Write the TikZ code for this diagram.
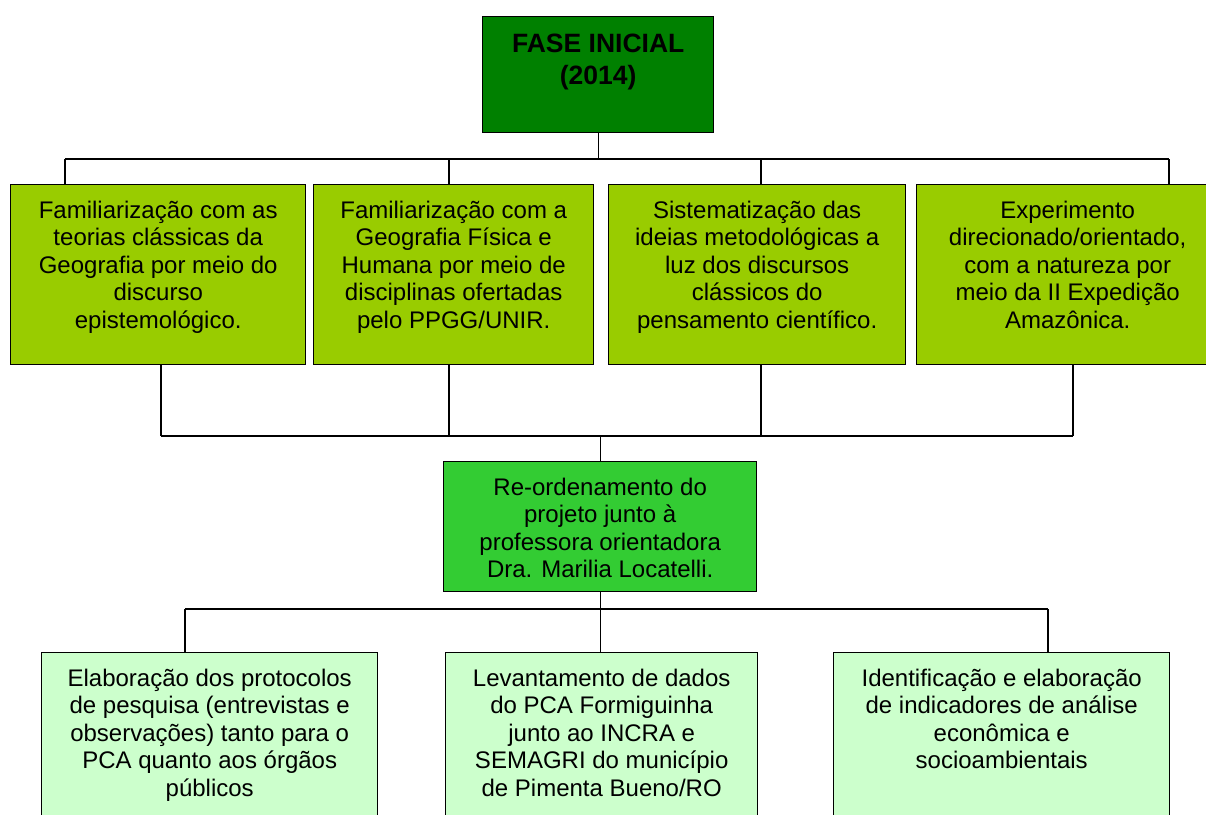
\documentclass[tikz,border=0pt]{standalone}
\usepackage{fontspec}
\setmainfont{Liberation Sans}
\definecolor{cTop}{HTML}{008000}
\definecolor{cMid}{HTML}{99CC00}
\definecolor{cRe}{HTML}{33CC33}
\definecolor{cLow}{HTML}{CCFFCC}
\begin{document}
\begin{tikzpicture}[x=1pt,y=-1pt,
  box/.style={draw=black, line width=1.4pt, rectangle, inner sep=0pt, anchor=north west},
  txt/.style={align=center, anchor=north, inner sep=0pt, font=\fontsize{24}{27.5}\selectfont},
  ttl/.style={align=center, anchor=north, inner sep=0pt, font=\fontsize{26.5}{31.5}\selectfont\bfseries},
  conn/.style={draw=black, line width=1.1pt}]
\useasboundingbox (0,0) rectangle (1206,814);
\fill[white] (0,0) rectangle (1206,814);
% top
\node[box, fill=cTop, minimum width=231pt, minimum height=116pt] (top) at (482,16) {};
\node[ttl] (topt) at ([yshift=-18pt]top.north) {FASE INICIAL\\(2014)};
% middle row
\node[box, fill=cMid, minimum width=295pt, minimum height=180pt] (b1) at (10,184) {};
\node[box, fill=cMid, minimum width=280pt, minimum height=180pt] (b2) at (313,184) {};
\node[box, fill=cMid, minimum width=297pt, minimum height=180pt] (b3) at (608,184) {};
\node[box, fill=cMid, minimum width=302pt, minimum height=180pt] (b4) at (916,184) {};
\node[txt] (b1t) at ([yshift=-16.5pt]b1.north) {Familiarização com as\\teorias clássicas da\\Geografia por meio do\\discurso\\epistemológico.};
\node[txt] (b2t) at ([yshift=-16.5pt]b2.north) {Familiarização com a\\Geografia Física e\\Humana por meio de\\disciplinas ofertadas\\pelo PPGG/UNIR.};
\node[txt] (b3t) at ([yshift=-16.5pt]b3.north) {Sistematização das\\ideias metodológicas a\\luz dos discursos\\clássicos do\\pensamento científico.};
\node[txt] (b4t) at ([yshift=-16.5pt]b4.north) {Experimento\\direcionado/orientado,\\com a natureza por\\meio da II Expedição\\Amazônica.};
% re-ordenamento
\node[box, fill=cRe, minimum width=313pt, minimum height=130pt] (re) at (443,461) {};
\node[txt] (ret) at ([yshift=-16.5pt]re.north) {Re-ordenamento do\\projeto junto à\\professora orientadora\\Dra. Marilia Locatelli.};
% bottom row
\node[box, fill=cLow, minimum width=336pt, minimum height=190pt] (c1) at (41,652) {};
\node[box, fill=cLow, minimum width=312pt, minimum height=190pt] (c2) at (445,652) {};
\node[box, fill=cLow, minimum width=336pt, minimum height=190pt] (c3) at (833,652) {};
\node[txt] (c1t) at ([yshift=-16.5pt]c1.north) {Elaboração dos protocolos\\de pesquisa (entrevistas e\\observações) tanto para o\\PCA quanto aos órgãos\\públicos};
\node[txt] (c2t) at ([yshift=-16.5pt]c2.north) {Levantamento de dados\\do PCA Formiguinha\\junto ao INCRA e\\SEMAGRI do município\\de Pimenta Bueno/RO};
\node[txt] (c3t) at ([yshift=-16.5pt]c3.north) {Identificação e elaboração\\de indicadores de análise\\econômica e\\socioambientais};
% connectors: top bus
\coordinate (t1) at (65,159);
\coordinate (t2) at (449,159);
\coordinate (t3) at (761,159);
\coordinate (t4) at (1169,159);
\draw[conn] (t1) -- (t4);
\draw[conn] (top.south) -- (top.south |- t1);
\draw[conn] (t1) -- (t1 |- b1.north);
\draw[conn] (t2) -- (t2 |- b2.north);
\draw[conn] (t3) -- (t3 |- b3.north);
\draw[conn] (t4) -- (t4 |- b4.north);
% lower bus
\coordinate (m1) at (161,436);
\coordinate (m2) at (449,436);
\coordinate (m3) at (761,436);
\coordinate (m4) at (1073,436);
\draw[conn] (m1) -- (m4);
\draw[conn] (m1 |- b1.south) -- (m1);
\draw[conn] (m2 |- b2.south) -- (m2);
\draw[conn] (m3 |- b3.south) -- (m3);
\draw[conn] (m4 |- b4.south) -- (m4);
\draw[conn] (re.north |- m1) -- (re.north);
% bottom bus
\coordinate (n1) at (185,609);
\coordinate (n3) at (1048,609);
\draw[conn] (n1) -- (n3);
\draw[conn] (re.south) -- (re.south |- c2.north);
\draw[conn] (n1) -- (n1 |- c1.north);
\draw[conn] (n3) -- (n3 |- c3.north);
\end{tikzpicture}
\end{document}
